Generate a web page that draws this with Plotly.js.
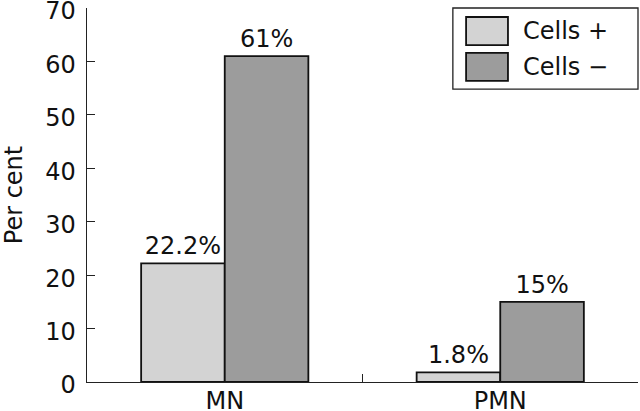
<!DOCTYPE html>
<html>
<head>
<meta charset="utf-8">
<script src="https://cdn.plot.ly/plotly-3.0.1.min.js"></script>
<style>html,body{margin:0;padding:0;background:#fff;}#chart{width:640px;height:411px;}</style>
</head>
<body>
<div id="chart"></div>
<script>
var categories = ["MN", "PMN"];
var seriesNames = ["Cells +", "Cells \u2212"];
var cellsPlus = [22.2, 1.8];
var cellsMinus = [61, 15];
var labelsPlus = ["22.2%", "1.8%"];
var labelsMinus = ["61%", "15%"];
var colors = ["#d3d3d3", "#9c9c9c"];

var FONT = "DejaVu Sans, Liberation Sans, Arial, sans-serif";
var FS = 24;

var traces = [
  {type: "bar", name: seriesNames[0], x: categories, y: cellsPlus, text: labelsPlus,
   textposition: "outside", cliponaxis: false,
   textfont: {family: FONT, size: FS, color: "#111"},
   marker: {color: colors[0], line: {color: "#111", width: 1.8}}, showlegend: false},
  {type: "bar", name: seriesNames[1], x: categories, y: cellsMinus, text: labelsMinus,
   textposition: "outside", cliponaxis: false,
   textfont: {family: FONT, size: FS, color: "#111"},
   marker: {color: colors[1], line: {color: "#111", width: 1.8}}, showlegend: false}
];

// custom legend (box, swatches, text)
var lx0 = 0.664, lx1 = 1.0, ly0 = 0.783, ly1 = 1.0;
var sw = [[0.976, 0.901], [0.880, 0.805]];
var shapes = [
  {type: "rect", xref: "paper", yref: "paper", x0: lx0, x1: lx1, y0: ly0, y1: ly1,
   line: {color: "#222", width: 1.3}, fillcolor: "#fff"}
];
var annotations = [];
for (var i = 0; i < 2; i++) {
  shapes.push({type: "rect", xref: "paper", yref: "paper", x0: 0.688, x1: 0.764,
    y0: sw[i][1], y1: sw[i][0], line: {color: "#111", width: 1.8}, fillcolor: colors[i]});
  annotations.push({xref: "paper", yref: "paper", x: 0.787, y: (sw[i][0] + sw[i][1]) / 2,
    xanchor: "left", yanchor: "middle", showarrow: false, text: seriesNames[i],
    font: {family: FONT, size: FS, color: "#111"}});
}

var layout = {
  width: 640, height: 411,
  margin: {l: 87, r: 2, t: 8, b: 29, pad: 0},
  paper_bgcolor: "#fff", plot_bgcolor: "#fff",
  barmode: "group", bargap: 0.393, bargroupgap: 0,
  font: {family: FONT, color: "#111"},
  xaxis: {
    type: "category", range: [-0.5, 1.5], tickson: "boundaries",
    ticks: "inside", ticklen: 8, tickwidth: 1.2, tickcolor: "#222",
    showline: true, linecolor: "#222", linewidth: 1.3, showgrid: false, zeroline: false,
    tickfont: {family: FONT, size: FS, color: "#111"}, ticklabelstandoff: -3
  },
  yaxis: {
    range: [0, 70], tickvals: [0, 10, 20, 30, 40, 50, 60, 70],
    ticks: "inside", ticklen: 8, tickwidth: 1.2, tickcolor: "#222",
    showline: true, linecolor: "#222", linewidth: 1.3, showgrid: false, zeroline: false,
    ticklabeloverflow: "allow", ticklabelstandoff: 5, ticklabelshift: 3,
    tickfont: {family: FONT, size: FS, color: "#111"},
    title: {text: "Per cent", font: {family: FONT, size: FS, color: "#111"}, standoff: 22}
  },
  shapes: shapes,
  annotations: annotations
};

Plotly.newPlot("chart", traces, layout, {staticPlot: true, displayModeBar: false});
</script>
</body>
</html>
